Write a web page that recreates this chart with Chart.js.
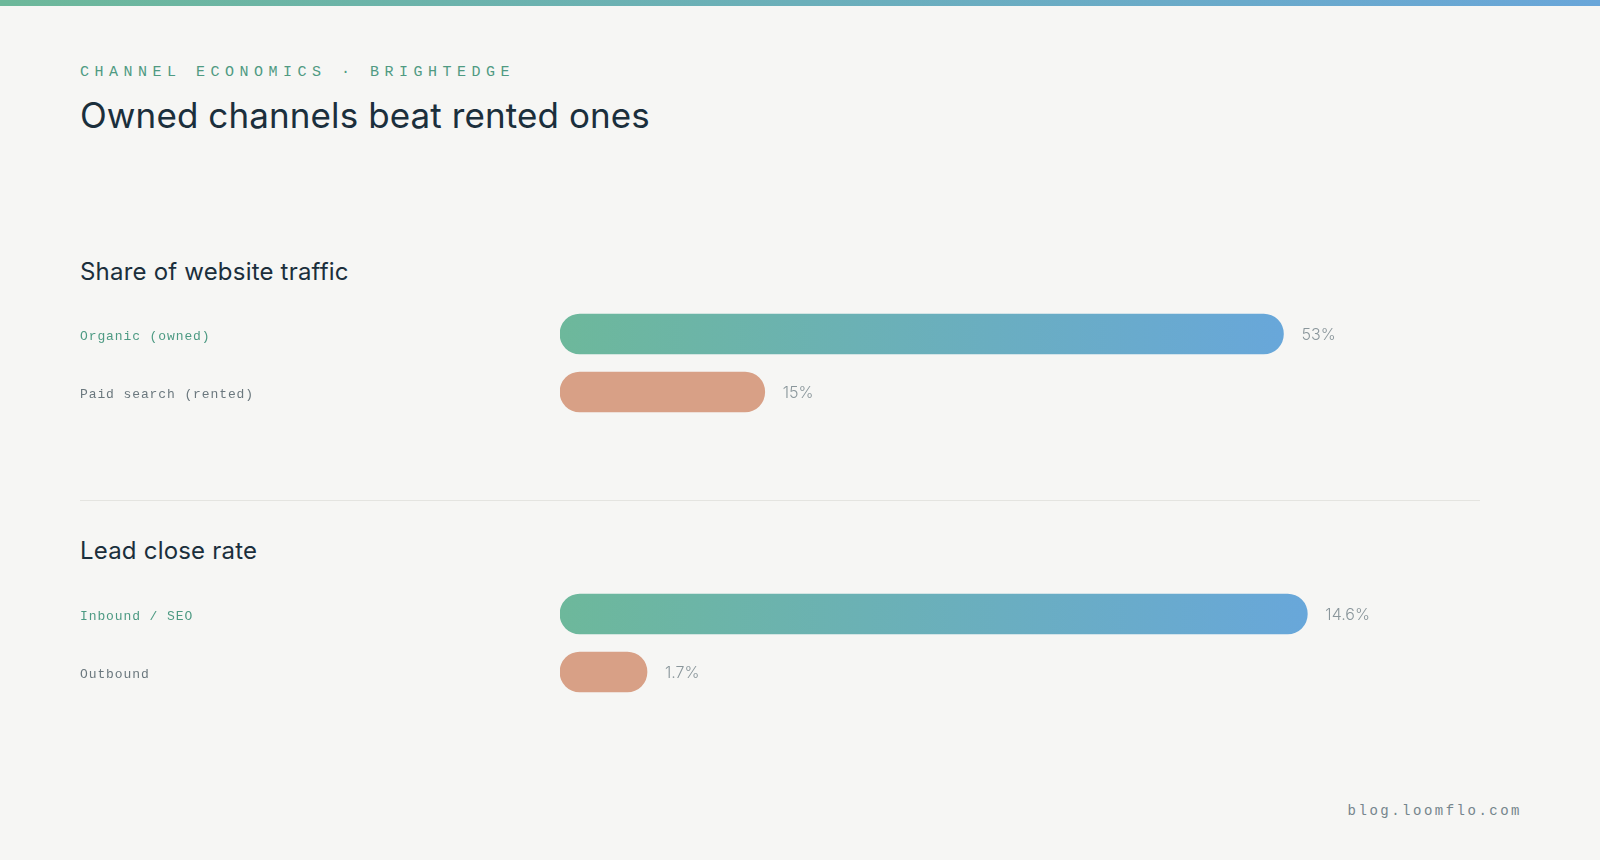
<!DOCTYPE html>
<html lang="en">
<head>
<meta charset="UTF-8">
<title>Owned channels beat rented ones</title>
<script src="https://cdn.jsdelivr.net/npm/chart.js"></script>
<style>
    html, body { margin: 0; padding: 0; }
    body {
        width: 1600px; height: 860px; position: relative; overflow: hidden;
        background: #f6f6f4;
        font-family: Inter, "Noto Sans", sans-serif;
    }
    .topbar {
        position: absolute; left: 0; top: 0; width: 1600px; height: 6px;
        background: linear-gradient(90deg, #6db89a, #69a6d9);
    }
    .eyebrow {
        position: absolute; left: 80px; top: 65px;
        font: 15px/15px "Liberation Mono", monospace;
        letter-spacing: 5.5px; color: #4f9a82;
    }
    h1 {
        position: absolute; left: 80px; top: 98px; margin: 0;
        font: 400 35px/35px Inter, sans-serif; color: #1b2f3c; letter-spacing: 0.1px;
    }
    h2 {
        position: absolute; left: 80px; margin: 0;
        font: 400 24px/24px Inter, sans-serif; color: #1b2f3c; letter-spacing: 0.2px;
    }
    .divider {
        position: absolute; left: 80px; top: 500px; width: 1400px; height: 1px;
        background: #e4e4e0;
    }
    canvas { position: absolute; left: 80px; }
    .footer {
        position: absolute; right: 78px; top: 804px;
        font: 14px/14px "Liberation Mono", monospace;
        letter-spacing: 2.5px; color: #75858c;
    }
</style>
</head>
<body>
<div class="topbar"></div>
<div class="eyebrow">CHANNEL ECONOMICS · BRIGHTEDGE</div>
<h1>Owned channels beat rented ones</h1>

<h2 style="top:260px">Share of website traffic</h2>
<canvas id="trafficChart" width="1400" height="116" style="top:305px"></canvas>

<div class="divider"></div>

<h2 style="top:539px">Lead close rate</h2>
<canvas id="closeChart" width="1400" height="116" style="top:585px"></canvas>

<div class="footer">blog.loomflo.com</div>

<script>
    // data
    const trafficLabels = ['Organic (owned)', 'Paid search (rented)'];
    const trafficValues = [53, 15];
    const trafficMax = 60;

    const closeLabels = ['Inbound / SEO', 'Outbound'];
    const closeValues = [14.6, 1.7];
    const closeMax = 16;

    const ownedLabelColor = '#4d9a83';
    const rentedLabelColor = '#6b787e';
    const rentedBar = '#d8a086';

    // bar fill: gradient along the bar for the owned channel, flat for rented
    function barFill(ctx) {
        if (ctx.dataIndex !== 0) return rentedBar;
        const chart = ctx.chart;
        if (!chart.chartArea || !chart.scales.x) return '#6db89a';
        const x0 = chart.scales.x.getPixelForValue(0);
        const x1 = chart.scales.x.getPixelForValue(ctx.raw);
        const g = chart.ctx.createLinearGradient(x0, 0, x1, 0);
        g.addColorStop(0, '#6db89b');
        g.addColorStop(1, '#68a7da');
        return g;
    }

    const spacingPlugin = {
        id: 'spacing',
        beforeDraw(chart) { chart.ctx.letterSpacing = '0.9px'; }
    };

    const valueLabels = {
        id: 'valueLabels',
        afterDatasetsDraw(chart) {
            const ctx = chart.ctx;
            const meta = chart.getDatasetMeta(0);
            ctx.save();
            ctx.letterSpacing = '0px';
            ctx.font = '300 16px Inter, sans-serif';
            ctx.fillStyle = '#8a969b';
            ctx.textAlign = 'left';
            ctx.textBaseline = 'middle';
            meta.data.forEach((bar, i) => {
                const v = chart.data.datasets[0].data[i];
                ctx.fillText(v + '%', bar.x + 18, bar.y + 1);
            });
            ctx.restore();
        }
    };

    function makeChart(id, labels, values, max) {
        new Chart(document.getElementById(id), {
            type: 'bar',
            data: {
                labels: labels,
                datasets: [{
                    data: values,
                    backgroundColor: barFill,
                    borderRadius: 20,
                    borderSkipped: false,
                    barThickness: 40
                }]
            },
            options: {
                indexAxis: 'y',
                responsive: false,
                animation: false,
                events: [],
                layout: { autoPadding: false, padding: { left: 0, right: 101, top: 0, bottom: 0 } },
                plugins: { legend: { display: false }, tooltip: { enabled: false } },
                scales: {
                    x: { display: false, min: 0, max: max },
                    y: {
                        grid: { display: false },
                        border: { display: false },
                        afterFit(scale) {
                            scale.width = 480;
                            scale.paddingTop = 0;
                            scale.paddingBottom = 0;
                        },
                        ticks: {
                            crossAlign: 'far',
                            padding: 0,
                            labelOffset: 3,
                            font: { family: 'Liberation Mono', size: 13, lineHeight: 0 },
                            color: c => c.index === 0 ? ownedLabelColor : rentedLabelColor
                        }
                    }
                }
            },
            plugins: [spacingPlugin, valueLabels]
        });
    }

    makeChart('trafficChart', trafficLabels, trafficValues, trafficMax);
    makeChart('closeChart', closeLabels, closeValues, closeMax);
</script>
</body>
</html>
